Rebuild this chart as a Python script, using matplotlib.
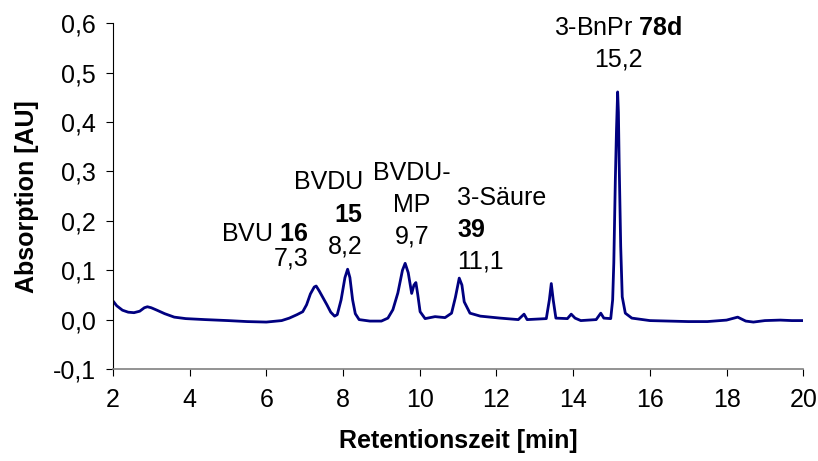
import matplotlib
matplotlib.use("Agg")
import matplotlib.pyplot as plt

plt.rcParams["font.family"] = ["Liberation Sans", "DejaVu Sans"]
plt.rcParams["mathtext.fontset"] = "custom"
plt.rcParams["mathtext.rm"] = "Liberation Sans"
plt.rcParams["mathtext.bf"] = "Liberation Sans:bold"

# Chromatogram trace: retention time [min] and absorption [AU]
time_min = [
    2.00, 2.10, 2.25, 2.40, 2.55, 2.70, 2.82, 2.90, 3.00, 3.15, 3.35, 3.60, 3.90,
    4.40, 5.00, 5.50, 6.00, 6.40, 6.60, 6.80, 6.95, 7.05, 7.15, 7.25, 7.30, 7.38,
    7.48, 7.58, 7.68, 7.78, 7.85, 7.95, 8.05, 8.12, 8.18, 8.25, 8.32, 8.42, 8.70,
    9.00, 9.17, 9.30, 9.43, 9.55, 9.62, 9.70, 9.79, 9.85, 9.90, 9.95, 10.01, 10.14,
    10.40, 10.66, 10.83, 10.93, 11.03, 11.10, 11.16, 11.31, 11.58, 12.10, 12.57,
    12.72, 12.80, 13.30, 13.38, 13.43, 13.48, 13.55, 13.85, 13.95, 14.05, 14.20,
    14.60, 14.72, 14.80, 14.98, 15.03, 15.06, 15.10, 15.13, 15.16, 15.18, 15.20,
    15.24, 15.28, 15.36, 15.53, 16.00, 16.50, 17.00, 17.50, 18.00, 18.29, 18.50,
    18.70, 19.00, 19.40, 19.70, 20.00,
]
absorption = [
    0.038, 0.028, 0.019, 0.015, 0.014, 0.017, 0.024, 0.026, 0.024, 0.019, 0.012, 0.005, 0.002,
    0.000, -0.002, -0.004, -0.005, -0.002, 0.003, 0.010, 0.016, 0.030, 0.052, 0.066, 0.068, 0.058,
    0.044, 0.030, 0.015, 0.007, 0.010, 0.040, 0.085, 0.102, 0.085, 0.040, 0.012, 0.000, -0.003,
    -0.003, 0.003, 0.020, 0.054, 0.100, 0.114, 0.095, 0.053, 0.070, 0.075, 0.050, 0.016, 0.002,
    0.006, 0.004, 0.013, 0.045, 0.084, 0.070, 0.036, 0.013, 0.007, 0.003, 0.000,
    0.011, 0.000, 0.002, 0.040, 0.073, 0.040, 0.003, 0.002, 0.011, 0.003, -0.002,
    0.000, 0.013, 0.003, 0.002, 0.040, 0.115, 0.283, 0.384, 0.461, 0.420, 0.317,
    0.148, 0.046, 0.013, 0.003, -0.002, -0.003, -0.004, -0.004, -0.001, 0.005, -0.003,
    -0.005, -0.002, -0.001, -0.002, -0.002,
]

x_ticks = [2, 4, 6, 8, 10, 12, 14, 16, 18, 20]
y_ticks = [-0.1, 0.0, 0.1, 0.2, 0.3, 0.4, 0.5, 0.6]
y_tick_labels = ["-0,1", "0,0", "0,1", "0,2", "0,3", "0,4", "0,5", "0,6"]

# Peak annotations: (lines, x, baselines, alignment)
peak_labels = [
    (["BVU $\\mathbf{16}$", "7,3"], 7.09, [0.160, 0.110], "right"),
    (["BVDU", "$\\mathbf{15}$", "8,2"], 8.52, [0.264, 0.198, 0.134], "right"),
    (["BVDU-", "MP", "9,7"], 9.80, [0.283, 0.218, 0.154], "center"),
    (["3-Säure", "$\\mathbf{39}$", "11,1"], 10.97, [0.232, 0.168, 0.104], "left"),
    (["3-BnPr $\\mathbf{78d}$", "15,2"], 15.18, [0.576, 0.512], "center"),
]

fig = plt.figure(figsize=(8.18, 4.61), dpi=100)
ax = fig.add_axes([0.138, 0.1996, 0.844, 0.7499])

ax.plot(time_min, absorption, color="#000080", linewidth=2.0, solid_joinstyle="round")

ax.set_xlim(2, 20)
ax.set_ylim(-0.1, 0.6)
ax.set_xticks(x_ticks)
ax.set_xticklabels([str(t) for t in x_ticks])
ax.set_yticks(y_ticks)
ax.set_yticklabels(y_tick_labels)
ax.tick_params(direction="out", length=5, width=0.8, labelsize=18, colors="black", pad=7)
ax.tick_params(axis="x", pad=9)

for side in ("top", "right"):
    ax.spines[side].set_visible(False)
ax.spines["left"].set_color("black")
ax.spines["left"].set_linewidth(0.8)
ax.spines["bottom"].set_color("#808080")
ax.spines["bottom"].set_linewidth(1.2)

ax.set_xlabel("Retentionszeit [min]", fontsize=18, fontweight="bold", labelpad=12)
ax.set_ylabel("Absorption [AU]", fontsize=18, fontweight="bold", labelpad=10)

for lines, x, baselines, align in peak_labels:
    for text, yb in zip(lines, baselines):
        ax.text(x, yb, text, ha=align, va="baseline", fontsize=18, color="black")

fig.savefig("out.png", dpi=100)
